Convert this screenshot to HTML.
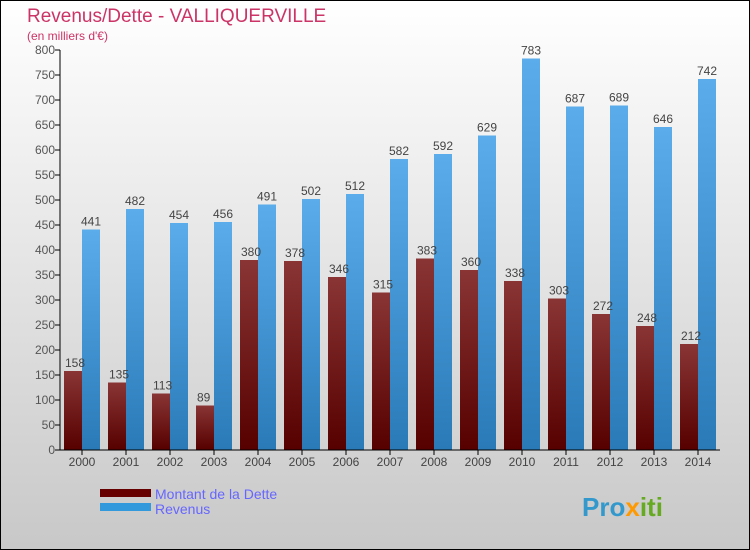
<!DOCTYPE html>
<html><head><meta charset="utf-8"><style>
body{margin:0;width:750px;height:550px;overflow:hidden}
svg{display:block;font-family:"Liberation Sans",sans-serif}
</style></head><body>
<svg id="c" width="750" height="550">
<defs>
<linearGradient id="bg" x1="0" y1="0" x2="0" y2="1"><stop offset="0" stop-color="#ffffff"/><stop offset="1" stop-color="#c8c8c8"/></linearGradient>
<linearGradient id="gd" x1="0" y1="0" x2="0" y2="1"><stop offset="0" stop-color="#8a3535"/><stop offset="1" stop-color="#560000"/></linearGradient>
<linearGradient id="gr" x1="0" y1="0" x2="0" y2="1"><stop offset="0" stop-color="#5aacea"/><stop offset="1" stop-color="#2a7ab8"/></linearGradient>
</defs>
<rect x="0.5" y="0.5" width="749" height="549" fill="url(#bg)" stroke="#000"/>
<text x="27" y="22" font-size="19" fill="#cc3366">Revenus/Dette - VALLIQUERVILLE</text>
<text x="27" y="40" font-size="12" fill="#cc3366">(en milliers d'€)</text>
<g id="plot"></g>
<rect x="100" y="489" width="51" height="8" fill="#660000"/>
<rect x="100" y="503" width="51" height="8" fill="#3399dd"/>
<text x="155" y="499" font-size="14" fill="#6666ff">Montant de la Dette</text>
<text x="155" y="514" font-size="14" fill="#6666ff">Revenus</text>
<text x="582" y="516" font-size="26" font-weight="bold" fill="#3399cc">Pro<tspan fill="#ff9900">x</tspan><tspan fill="#66aa22">iti</tspan></text>
</svg>
<script>
const years=["2000","2001","2002","2003","2004","2005","2006","2007","2008","2009","2010","2011","2012","2013","2014"];
const dette=[158,135,113,89,380,378,346,315,383,360,338,303,272,248,212];
const revenus=[441,482,454,456,491,502,512,582,592,629,783,687,689,646,742];
const ticks=[0,50,100,150,200,250,300,350,400,450,500,550,600,650,700,750,800];
const NS="http://www.w3.org/2000/svg";
const g=document.getElementById('plot');
const x0=60,step=44,y=v=>450-v*0.5;
function mk(t,a,txt){const e=document.createElementNS(NS,t);for(const k in a)e.setAttribute(k,a[k]);if(txt!=null)e.textContent=txt;g.appendChild(e);return e;}
ticks.forEach(t=>{
 const l=mk('line',{x1:55,x2:60,y1:y(t),y2:y(t),stroke:'#000'});
 
 
 const s=mk('text',{x:55,y:y(t)+4,'font-size':12,fill:'#555','text-anchor':'end'},t);
 
 
});
years.forEach((yr,i)=>{
 const gx=x0+step*i;
 const bd=mk('rect',{x:gx+4,y:y(dette[i]),width:18,height:dette[i]*0.5,fill:'url(#gd)'});
 
 
 const br=mk('rect',{x:gx+22,y:y(revenus[i]),width:18,height:revenus[i]*0.5,fill:'url(#gr)'});
 
 
 const ld=mk('text',{x:gx+5,y:y(dette[i])-4,'font-size':12,fill:'#444','text-anchor':'start'},dette[i]);
 
 
 const lr=mk('text',{x:gx+31,y:y(revenus[i])-4,'font-size':12,fill:'#444','text-anchor':'middle'},revenus[i]);
 
 
 const tk=mk('line',{x1:gx+22,x2:gx+22,y1:450,y2:455,stroke:'#000'});
 
 
 const xl=mk('text',{x:gx+22,y:466,'font-size':12,fill:'#444','text-anchor':'middle'},yr);
 
 
});
const ya=mk('line',{x1:60,x2:60,y1:50,y2:450,stroke:'#000'});


const xa=mk('line',{x1:60,x2:720,y1:450,y2:450,stroke:'#000'});


</script>
</body></html>
